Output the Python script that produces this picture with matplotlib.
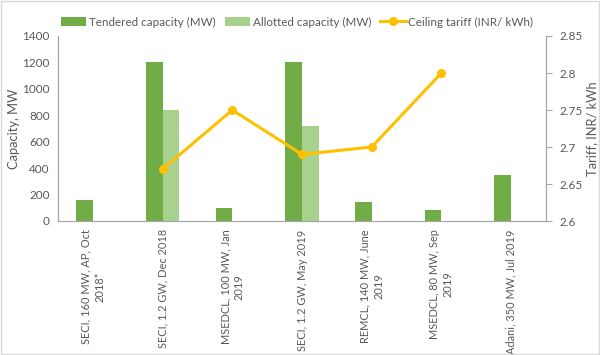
import numpy as np
import matplotlib.pyplot as plt
from matplotlib.patches import Rectangle

labels = ["SECI, 160 MW, AP, Oct\n2018*", "SECI, 1.2 GW, Dec 2018",
          "MSEDCL, 100 MW, Jan\n2019", "SECI, 1.2 GW, May 2019",
          "REMCL, 140 MW, June\n2019", "MSEDCL, 80 MW, Sep\n2019",
          "Adani, 350 MW, Jul 2019"]
tendered = [160, 1200, 100, 1200, 140, 80, 350]
allotted = [0, 840, 0, 720, 0, 0, 0]
tariff = [np.nan, 2.67, 2.75, 2.69, 2.70, 2.80, np.nan]

txt = "#595959"
plt.rcParams['font.family'] = ['Lato', 'DejaVu Sans']
plt.rcParams['font.size'] = 8.5

fig = plt.figure(figsize=(6, 3.55), dpi=100)
ax = fig.add_axes([58/600, 1-221/355, 488/600, 185/355])
ax2 = ax.twinx()

x = np.arange(len(labels))
w = 0.24
b1 = ax.bar(x - w/2, tendered, w, color="#70AD47", label="Tendered capacity (MW)")
b2 = ax.bar(x + w/2, allotted, w, color="#A9D18E", label="Allotted capacity (MW)")
l1, = ax2.plot(x, tariff, color="#FFC000", lw=2.2, marker="o", ms=5.5,
               label="Ceiling tariff (INR/ kWh)")

ax.set_xlim(-0.5, len(labels) - 0.5)
ax.set_ylim(0, 1400)
ax.set_yticks(range(0, 1401, 200))
ax2.set_ylim(2.6, 2.85)
ax2.set_yticks([2.6, 2.65, 2.7, 2.75, 2.8, 2.85])
ax2.set_yticklabels(["2.6", "2.65", "2.7", "2.75", "2.8", "2.85"])

ax.set_xticks(x)
ax.set_xticklabels(labels, rotation=90, ha="center", va="top",
                   multialignment="center", color=txt, fontsize=7.9,
                   linespacing=1.3)
ax.tick_params(axis="x", length=0, pad=6)
ax.tick_params(axis="y", length=0, colors=txt, pad=6)
ax2.tick_params(axis="y", length=4, color="#A6A6A6", colors=txt, pad=6)

for a in (ax, ax2):
    a.spines["top"].set_visible(False)
    for s in ("left", "right", "bottom"):
        a.spines[s].set_color("#A6A6A6")
ax.set_ylabel("Capacity, MW", color=txt, fontsize=9.3)
ax2.set_ylabel("Tariff, INR/ kWh", color=txt, fontsize=9.3)
ax.yaxis.set_label_coords(-0.077, 0.5)
ax2.yaxis.set_label_coords(1.083, 0.5)

leg = fig.legend([b1, b2, l1], [b1.get_label(), b2.get_label(), l1.get_label()],
                 loc="center", bbox_to_anchor=(0.495, 1-22/355), ncol=3,
                 frameon=False, handlelength=2.2, columnspacing=0.8,
                 handletextpad=0.2, fontsize=8.4)
for t in leg.get_texts():
    t.set_color(txt)

fig.patches.append(Rectangle((0.001, 0.002), 0.997, 0.995, transform=fig.transFigure,
                             fill=False, edgecolor="#D9D9D9", lw=1))

fig.savefig("out.png", dpi=100)
